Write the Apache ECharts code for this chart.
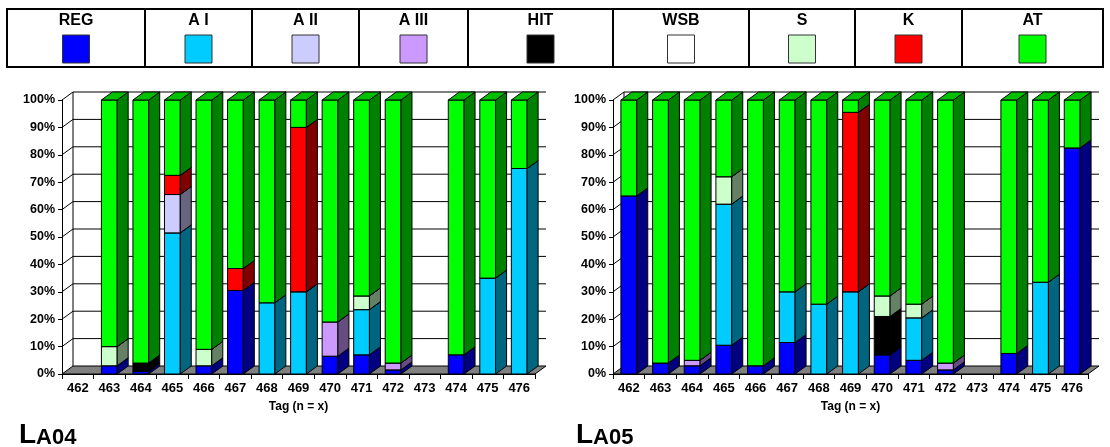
<!DOCTYPE html>
<html>
<head>
<meta charset="utf-8">
<script src="https://cdn.jsdelivr.net/npm/echarts@6/dist/echarts.min.js"></script>
<style>
  html, body { margin: 0; padding: 0; background: #fff; }
  #chart { width: 1110px; height: 447px; }
</style>
</head>
<body>
<div id="chart"></div>
<script>
// Day labels on the category axis
const tags = ['462', '463', '464', '465', '466', '467', '468', '469', '470', '471', '472', '473', '474', '475', '476'];

// Components, bottom to top of each stacked column
const components = ['REG', 'A I', 'A II', 'A III', 'HIT', 'WSB', 'S', 'K', 'AT'];

// Percentage ticks on the value axis
const yTicks = [0, 10, 20, 30, 40, 50, 60, 70, 80, 90, 100];

// LA04 shares (%) per day
const la04REG  = [0, 3, 1, 0, 3, 30.5, 0, 0, 6.5, 7, 1.5, 0, 7, 0, 0];
const la04AI   = [0, 0, 0, 51.5, 0, 0, 26, 30, 0, 16.5, 0, 0, 0, 35, 75];
const la04AII  = [0, 0, 0, 14, 0, 0, 0, 0, 0, 0, 0, 0, 0, 0, 0];
const la04AIII = [0, 0, 0, 0, 0, 0, 0, 0, 12.5, 0, 2.5, 0, 0, 0, 0];
const la04HIT  = [0, 0, 3, 0, 0, 0, 0, 0, 0, 0, 0, 0, 0, 0, 0];
const la04WSB  = [0, 0, 0, 0, 0, 0, 0, 0, 0, 0, 0, 0, 0, 0, 0];
const la04S    = [0, 7, 0, 0, 6, 0, 0, 0, 0, 5, 0, 0, 0, 0, 0];
const la04K    = [0, 0, 0, 7, 0, 8, 0, 60, 0, 0, 0, 0, 0, 0, 0];
const la04AT   = [0, 90, 96, 27.5, 91, 61.5, 74, 10, 81, 71.5, 96, 0, 93, 65, 25];

// LA05 shares (%) per day
const la05REG  = [65, 4, 3, 10.5, 3, 11.5, 0, 0, 7, 5, 1.5, 0, 7.5, 0, 82.5];
const la05AI   = [0, 0, 0, 51.5, 0, 18.5, 25.5, 30, 0, 15.5, 0, 0, 0, 33.5, 0];
const la05AII  = [0, 0, 0, 0, 0, 0, 0, 0, 0, 0, 0, 0, 0, 0, 0];
const la05AIII = [0, 0, 2, 0, 0, 0, 0, 0, 0, 0, 2.5, 0, 0, 0, 0];
const la05HIT  = [0, 0, 0, 0, 0, 0, 0, 0, 14, 0, 0, 0, 0, 0, 0];
const la05WSB  = [0, 0, 0, 0, 0, 0, 0, 0, 0, 0, 0, 0, 0, 0, 0];
const la05S    = [0, 0, 0, 10, 0, 0, 0, 0, 7.5, 5, 0, 0, 0, 0, 0];
const la05K    = [0, 0, 0, 0, 0, 0, 0, 65.5, 0, 0, 0, 0, 0, 0, 0];
const la05AT   = [35, 96, 95, 28, 97, 70, 74.5, 4.5, 71.5, 74.5, 96, 0, 92.5, 66.5, 17.5];

const la04 = [la04REG, la04AI, la04AII, la04AIII, la04HIT, la04WSB, la04S, la04K, la04AT];
const la05 = [la05REG, la05AI, la05AII, la05AIII, la05HIT, la05WSB, la05S, la05K, la05AT];

// ---- styling ----
const FONT = '"Liberation Sans", Arial, sans-serif';
const faceColor = ['#0000ff', '#00ccff', '#ccccff', '#cc99ff', '#000000', '#ffffff', '#ccffcc', '#ff0000', '#00ff00'];
const sideColor = ['#000080', '#006680', '#666680', '#664d80', '#000000', '#808080', '#668066', '#800000', '#008000'];
const topColor  = ['#0000c0', '#0099c0', '#9999c0', '#9973c0', '#000000', '#c0c0c0', '#99c099', '#c00000', '#00c000'];
const DX = 11, DY = 8;          // oblique depth of the 3D projection
const grids = [
  { left: 62, top: 100, width: 473, height: 274 },
  { left: 613, top: 100, width: 475, height: 274 }
];
// legend table column edges
const legendEdges = [7, 145, 252, 359, 468, 613, 749, 855, 962, 1103];

// back wall, side wall and floor of each 3D plot
function wallItem(params, api) {
  const cs = params.coordSys;
  const v = api.value(0);
  const y = api.coord([0, v])[1];
  const x0 = cs.x, x1 = cs.x + cs.width;
  const children = [];
  const line = { stroke: '#000', lineWidth: 1, fill: null };
  if (v === 0) {
    children.push({
      type: 'polygon',
      shape: { points: [[x0, y], [x1, y], [x1 + DX, y - DY], [x0 + DX, y - DY]] },
      style: { fill: '#808080', stroke: '#000', lineWidth: 1 }
    });
  } else {
    children.push({
      type: 'polyline',
      shape: { points: [[x0, y], [x0 + DX, y - DY], [x1 + DX, y - DY]] },
      style: line
    });
  }
  if (v === 100) {
    const yb = api.coord([0, 0])[1];
    children.push({
      type: 'line',
      shape: { x1: x0 + DX, y1: y - DY, x2: x0 + DX, y2: yb - DY },
      style: line
    });
  }
  return { type: 'group', children: children };
}

function barRenderer(k) {
  return function (params, api) {
    const cat = api.value(0), lo = api.value(1), hi = api.value(2);
    if (!(hi > lo)) return null;
    const pb = api.coord([cat, lo]);
    const pt = api.coord([cat, hi]);
    const w = api.size([1, 0])[0] * 0.5;
    const L = pb[0] - w / 2, R = pb[0] + w / 2;
    const B = pb[1], T = pt[1];
    const edge = { stroke: '#000', lineWidth: 1 };
    return {
      type: 'group',
      children: [
        { type: 'polygon', shape: { points: [[L, B], [R, B], [R, T], [L, T]] },
          style: Object.assign({ fill: faceColor[k] }, edge) },
        { type: 'polygon', shape: { points: [[R, B], [R + DX, B - DY], [R + DX, T - DY], [R, T]] },
          style: Object.assign({ fill: sideColor[k] }, edge) },
        { type: 'polygon', shape: { points: [[L, T], [R, T], [R + DX, T - DY], [L + DX, T - DY]] },
          style: Object.assign({ fill: topColor[k] }, edge) }
      ]
    };
  };
}

const series = [];
[la04, la05].forEach(function (chartData, g) {
  series.push({
    type: 'custom',
    name: 'wall' + g,
    xAxisIndex: g, yAxisIndex: g,
    z: 1,
    silent: true,
    renderItem: wallItem,
    encode: { y: 0 },
    data: yTicks.map(function (t) { return [t]; })
  });
  const base = tags.map(function () { return 0; });
  components.forEach(function (name, k) {
    const data = [];
    chartData[k].forEach(function (v, i) {
      if (v > 0) data.push([i, base[i], base[i] + v]);
      base[i] += v;
    });
    series.push({
      type: 'custom',
      name: name,
      xAxisIndex: g, yAxisIndex: g,
      z: 3,
      silent: true,
      renderItem: barRenderer(k),
      encode: { x: 0, y: [1, 2] },
      data: data
    });
  });
});

function xAxisFor(g) {
  return {
    type: 'category', gridIndex: g, data: tags,
    boundaryGap: true,
    axisLine: { show: true, lineStyle: { color: '#000', width: 1 } },
    axisTick: { show: true, interval: 0, length: 5, lineStyle: { color: '#000' } },
    axisLabel: { interval: 0, color: '#000', fontFamily: FONT, fontWeight: 'bold', fontSize: 13, margin: 8 },
    name: 'Tag (n = x)', nameLocation: 'middle', nameGap: 27,
    nameTextStyle: { color: '#000', fontFamily: FONT, fontWeight: 'bold', fontSize: 12 }
  };
}
function yAxisFor(g) {
  return {
    type: 'value', gridIndex: g, min: 0, max: 100, interval: 10,
    axisLine: { show: true, lineStyle: { color: '#000', width: 1 } },
    axisTick: { show: true, length: 4, lineStyle: { color: '#000' } },
    splitLine: { show: false },
    axisLabel: { formatter: '{value}%', color: '#000', fontFamily: FONT, fontWeight: 'bold', fontSize: 12.5, margin: 7 }
  };
}

// legend table
const legendGraphics = [{
  type: 'rect', shape: { x: legendEdges[0], y: 9, width: legendEdges[legendEdges.length - 1] - legendEdges[0], height: 58 },
  style: { fill: null, stroke: '#000', lineWidth: 2 }
}];
components.forEach(function (name, k) {
  const a = legendEdges[k], b = legendEdges[k + 1], cx = (a + b) / 2;
  if (k > 0) {
    legendGraphics.push({ type: 'line', shape: { x1: a, y1: 9, x2: a, y2: 67 }, style: { stroke: '#000', lineWidth: 2 } });
  }
  legendGraphics.push({
    type: 'text', x: cx, y: 21,
    style: { text: name, fill: '#000', font: 'bold 16px ' + FONT, textAlign: 'center', textVerticalAlign: 'middle' }
  });
  legendGraphics.push({
    type: 'rect', shape: { x: cx - 13.5, y: 35, width: 27, height: 28 },
    style: { fill: faceColor[k], stroke: '#333', lineWidth: 1 }
  });
});

const titleRich = {
  a: { fontFamily: FONT, fontWeight: 'bold', fontSize: 28, color: '#000', verticalAlign: 'bottom' },
  b: { fontFamily: FONT, fontWeight: 'bold', fontSize: 22, color: '#000', verticalAlign: 'bottom' }
};

const chart = echarts.init(document.getElementById('chart'), null, { renderer: 'canvas' });
chart.setOption({
  animation: false,
  backgroundColor: '#fff',
  title: [
    { text: '{a|L}{b|A04}', left: 14, top: 416, textStyle: { rich: titleRich } },
    { text: '{a|L}{b|A05}', left: 571, top: 416, textStyle: { rich: titleRich } }
  ],
  grid: grids,
  xAxis: [xAxisFor(0), xAxisFor(1)],
  yAxis: [yAxisFor(0), yAxisFor(1)],
  graphic: legendGraphics,
  series: series
});
</script>
</body>
</html>
